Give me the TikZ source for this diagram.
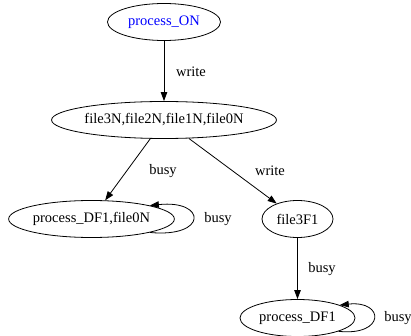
\documentclass[tikz,border=0pt]{standalone}
\usepackage{fontspec}
\setmainfont{Liberation Serif}
\usetikzlibrary{arrows.meta,shapes.geometric}
\tikzset{
  state/.style={ellipse, draw, line width=0.8pt, inner sep=0pt, minimum height=37pt},
  flow/.style={draw, line width=0.8pt, -{Triangle[length=9pt,width=6.5pt]}},
  lbl/.style={inner sep=0pt}
}
\begin{document}
\begin{tikzpicture}[x=1pt, y=-1pt, font=\fontsize{14.5}{16}\selectfont]
\useasboundingbox (0,0) rectangle (411,336);

% states
\node[state, minimum width=113pt, text=blue] (on)   at (164,22)  {process\_ON};
\node[state, minimum width=218pt]            (fall) at (164,120) {file3N,file2N,file1N,file0N};
\node[state, minimum width=165pt]            (pdf0) at (91.5,219) {process\_DF1,file0N};
\node[state, minimum width=71pt]             (f3)   at (297.5,219) {file3F1};
\node[state, minimum width=115pt]            (pdf)  at (297.5,318) {process\_DF1};

% transitions
\draw[flow] (on) -- (fall);
\node[lbl] (l1) at (191,72) {write};

\draw[flow] (fall) -- (pdf0);
\node[lbl] (l2) at (163,171) {busy};

\draw[flow] (fall) -- (f3);
\node[lbl] (l3) at (270,171) {write};

\draw[flow] (f3) -- (pdf);
\node[lbl] (l4) at (322,269) {busy};

% self loops
\draw[flow] (pdf0.-13.5) .. controls +(58,5.5) and +(57,-6) .. (pdf0.13);
\node[lbl] (l5) at (218,219) {busy};

\draw[flow] (pdf.-18) .. controls +(47,5) and +(45,-5) .. (pdf.17);
\node[lbl] (l6) at (398,318) {busy};
\end{tikzpicture}
\end{document}
